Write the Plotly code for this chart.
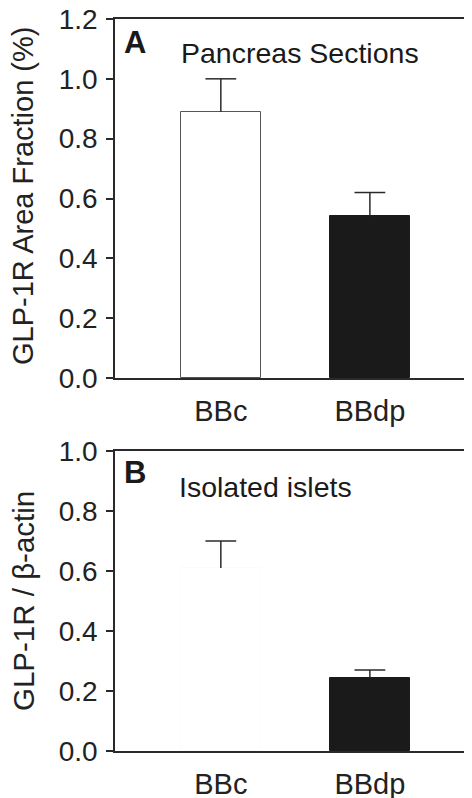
import plotly.graph_objects as go

categories = ["BBc", "BBdp"]
# Panel A: Pancreas Sections
a_values = [0.89, 0.54]
a_errors = [0.11, 0.08]
# Panel B: Isolated islets
b_values = [0.61, 0.245]
b_errors = [0.09, 0.025]

a_ticks = [0.0, 0.2, 0.4, 0.6, 0.8, 1.0, 1.2]
b_ticks = [0.0, 0.2, 0.4, 0.6, 0.8, 1.0]

# the page places the figure 8px from the top-left corner
OFF = 8
W, H = 472 - OFF, 798 - OFF
L = 115 - OFF
PW = W - L

def px(x):
    return (x - OFF - L) / PW

def py(y):
    return 1 - (y - OFF) / H

FONT = "Liberation Sans, Arial, Helvetica, sans-serif"
LINE = "#2a2a2a"

fig = go.Figure()

def add_panel(values, errors, xa, ya, outline):
    fig.add_trace(go.Bar(
        x=categories, y=values, width=0.54,
        marker=dict(color=["#ffffff", "#1a1a1a"], line=dict(color=[outline, "#1a1a1a"], width=1)),
        error_y=dict(type="data", array=errors, symmetric=False, arrayminus=[0, 0],
                     color=LINE, thickness=1.5, width=0),
        xaxis=xa, yaxis=ya, showlegend=False, hoverinfo="skip",
    ))
    tops = [v + e for v, e in zip(values, errors)]
    fig.add_trace(go.Scatter(
        x=categories, y=tops, mode="markers",
        marker=dict(symbol="line-ew", size=22, line=dict(color=LINE, width=1.5)),
        xaxis=xa, yaxis=ya, showlegend=False, hoverinfo="skip",
    ))

add_panel(a_values, a_errors, "x", "y", "#555555")
add_panel(b_values, b_errors, "x2", "y2", "#fbfbfb")

xrange = [-0.71, 1.685]
xcommon = dict(type="category", range=xrange, showline=True, linecolor=LINE, linewidth=1.5,
               mirror=True, ticks="", showgrid=False, zeroline=False, automargin=False,
               ticklabeloverflow="allow",
               tickfont=dict(family=FONT, size=29, color="#222"), ticklabelstandoff=6)
ycommon = dict(showline=True, linecolor=LINE, linewidth=1.5, ticks="outside", ticklen=7,
               tickwidth=1.5, tickcolor=LINE, showgrid=False, zeroline=False, automargin=False,
               ticklabeloverflow="allow",
               tickfont=dict(family=FONT, size=28, color="#222"), tickformat=".1f",
               ticklabelstandoff=3)

fig.update_layout(
    width=W, height=H,
    margin=dict(l=L, r=0, t=0, b=0),
    paper_bgcolor="white", plot_bgcolor="white",
    bargap=0,
    xaxis=dict(domain=[0, 1], anchor="y", **xcommon),
    yaxis=dict(domain=[py(378), py(19)], anchor="x", range=[0, 1.2], tickvals=a_ticks, **ycommon),
    xaxis2=dict(domain=[0, 1], anchor="y2", **xcommon),
    yaxis2=dict(domain=[py(751), py(451)], anchor="x2", range=[0, 1.0], tickvals=b_ticks, **ycommon),
)

ann = [
    dict(text="<b>A</b>", x=px(122), y=py(42), size=31),
    dict(text="Pancreas Sections", x=px(179), y=py(53), size=28.5),
    dict(text="<b>B</b>", x=px(122), y=py(472), size=31),
    dict(text="Isolated islets", x=px(177), y=py(487), size=28.5),
]
for a in ann:
    fig.add_annotation(text=a["text"], x=a["x"], y=a["y"], xref="paper", yref="paper",
                       xanchor="left", yanchor="middle", showarrow=False,
                       font=dict(family=FONT, size=a["size"], color="#1a1a1a"))

fig.add_annotation(text="GLP-1R Area Fraction (%)", x=px(23), y=py(196), xref="paper", yref="paper",
                   textangle=-90, showarrow=False, xanchor="center", yanchor="middle",
                   font=dict(family=FONT, size=29, color="#222"))
fig.add_annotation(text="GLP-1R / β-actin", x=px(23), y=py(601), xref="paper", yref="paper",
                   textangle=-90, showarrow=False, xanchor="center", yanchor="middle",
                   font=dict(family=FONT, size=29.5, color="#222"))

fig.write_html("out.html")
